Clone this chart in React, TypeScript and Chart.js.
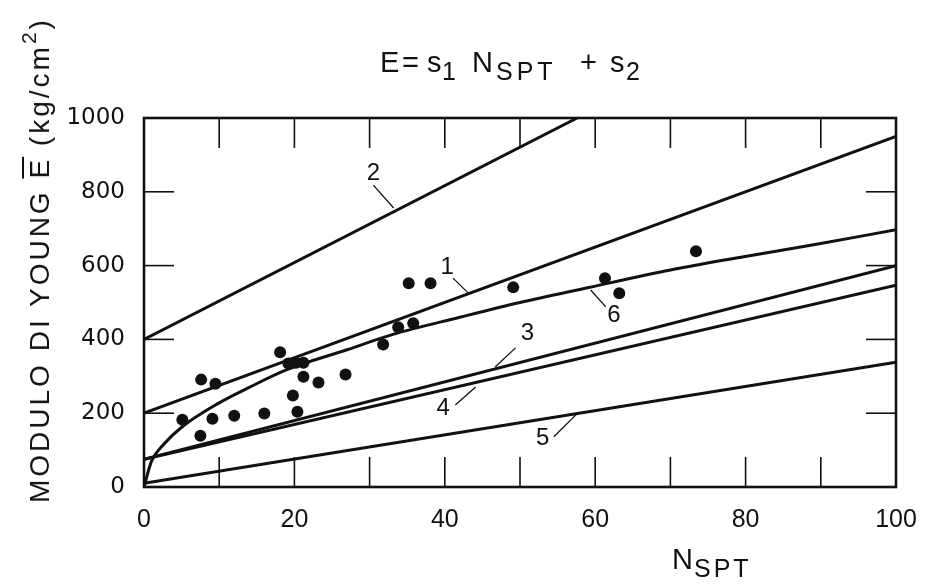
import React, { useEffect, useRef } from 'react';
import { Chart, registerables } from 'chart.js';

Chart.register(...registerables);

// ---- data ----
const xTickStep = 10;
const yTickStep = 200;
const xMin = 0;
const xMax = 100;
const yMin = 0;
const yMax = 1000;

const scatterX = [5.1, 7.5, 7.6, 9.5, 9.1, 12.0, 16.0, 20.4, 19.8, 21.2, 23.2, 26.8, 18.1, 19.2, 20.2, 21.2, 31.8, 33.8, 35.8, 35.2, 38.1, 49.1, 61.3, 63.2, 73.4];
const scatterY = [182, 139, 291, 280, 185, 193, 199, 204, 248, 299, 283, 305, 365, 335, 337, 337, 386, 433, 444, 552, 552, 541, 566, 525, 639];

const line1X = [0, 100];
const line1Y = [200, 950];
const line2X = [0, 57.6];
const line2Y = [400, 1000];
const line3X = [0, 100];
const line3Y = [75, 600];
const line4X = [0, 100];
const line4Y = [75, 547];
const line5X = [0, 100];
const line5Y = [10, 338];
const line6X = [0, 1, 2.6, 5, 10, 14, 19, 27, 33, 42, 50, 59, 70, 78, 90, 100];
const line6Y = [0, 70, 115, 162, 228, 270, 318, 372, 413, 460, 500, 540, 588, 618, 660, 697];

const curveLabels = ['1', '2', '3', '4', '5', '6'];
const curveLabelX = [40.3, 30.5, 51.0, 39.8, 53.0, 62.5];
const curveLabelY = [596, 851, 417, 214, 133, 466];
const leaderFromX = [41.1, 30.5, 49.4, 41.4, 54.5, 61.4];
const leaderFromY = [566, 818, 377, 222, 136, 488];
const leaderToX = [43.1, 33.2, 46.7, 44.1, 57.8, 59.4];
const leaderToY = [526, 756, 325, 271, 203, 534];

const pts = (xs: number[], ys: number[]) => xs.map((x, i) => ({ x, y: ys[i] }));

const lineDs = (xs: number[], ys: number[], extra: any = {}) => ({
  type: 'line' as const,
  data: pts(xs, ys),
  borderColor: '#111',
  borderWidth: 3,
  pointRadius: 0,
  fill: false,
  ...extra,
});

const framePlugin = {
  id: 'frameTicks',
  afterDatasetsDraw(chart: any) {
    const { ctx, chartArea: a, scales } = chart;
    const x = scales.x;
    const y = scales.y;
    const TL = 30;
    ctx.save();
    ctx.strokeStyle = '#111';
    ctx.lineCap = 'butt';
    ctx.lineWidth = 1.6;
    const seg = (x1: number, y1: number, x2: number, y2: number) => {
      ctx.beginPath();
      ctx.moveTo(x1, y1);
      ctx.lineTo(x2, y2);
      ctx.stroke();
    };
    x.ticks.forEach((t: any) => {
      if (t.value <= x.min || t.value >= x.max) return;
      const px = x.getPixelForValue(t.value);
      seg(px, a.bottom, px, a.bottom - TL);
      seg(px, a.top, px, a.top + TL);
    });
    y.ticks.forEach((t: any) => {
      if (t.value <= y.min || t.value >= y.max) return;
      const py = y.getPixelForValue(t.value);
      seg(a.left, py, a.left + TL, py);
      seg(a.right, py, a.right - TL, py);
    });
    ctx.lineWidth = 2.6;
    ctx.strokeRect(a.left, a.top, a.right - a.left, a.bottom - a.top);

    // curve labels with leader lines
    ctx.lineWidth = 1.3;
    ctx.fillStyle = '#111';
    ctx.font = '24px "Liberation Sans", Arial, sans-serif';
    ctx.textAlign = 'center';
    ctx.textBaseline = 'middle';
    curveLabels.forEach((lab, i) => {
      ctx.fillText(lab, x.getPixelForValue(curveLabelX[i]), y.getPixelForValue(curveLabelY[i]));
      seg(
        x.getPixelForValue(leaderFromX[i]),
        y.getPixelForValue(leaderFromY[i]),
        x.getPixelForValue(leaderToX[i]),
        y.getPixelForValue(leaderToY[i])
      );
    });
    ctx.restore();
  },
};

export default function App() {
  const ref = useRef<HTMLCanvasElement>(null);

  useEffect(() => {
    const canvas = ref.current;
    if (!canvas) return;
    const chart = new Chart(canvas, {
      type: 'scatter',
      data: {
        datasets: [
          {
            type: 'scatter',
            data: pts(scatterX, scatterY),
            backgroundColor: '#111',
            borderWidth: 0,
            pointRadius: 6,
          } as any,
          lineDs(line1X, line1Y),
          lineDs(line2X, line2Y),
          lineDs(line3X, line3Y),
          lineDs(line4X, line4Y),
          lineDs(line5X, line5Y),
          lineDs(line6X, line6Y, { cubicInterpolationMode: 'monotone' }),
        ],
      },
      options: {
        responsive: false,
        animation: false,
        events: [],
        layout: { padding: { left: 0, right: 31, top: 118, bottom: 0 } },
        plugins: {
          legend: { display: false },
          tooltip: { enabled: false },
          title: { display: false },
        },
        scales: {
          x: {
            type: 'linear',
            min: xMin,
            max: xMax,
            grid: { display: false },
            border: { display: false },
            ticks: {
              stepSize: xTickStep,
              autoSkip: false,
              maxRotation: 0,
              padding: 10,
              color: '#111',
              font: { family: '"Liberation Sans", Arial, sans-serif', size: 25 },
              callback: (v: any) => (Number(v) % 20 === 0 ? String(v) : ''),
            },
            afterFit: (s: any) => {
              s.height = 99;
            },
          },
          y: {
            type: 'linear',
            min: yMin,
            max: yMax,
            grid: { display: false },
            border: { display: false },
            ticks: {
              stepSize: yTickStep,
              padding: 11,
              color: '#111',
              font: { family: '"DejaVu Sans", sans-serif', size: 23 },
              callback: (v: any) => String(v),
            },
            afterFit: (s: any) => {
              s.width = 144;
            },
          },
        },
      },
      plugins: [framePlugin],
    } as any);
    return () => chart.destroy();
  }, []);

  const base: React.CSSProperties = {
    position: 'absolute',
    fontFamily: '"Liberation Sans", Arial, sans-serif',
    color: '#111',
    whiteSpace: 'nowrap',
    lineHeight: 1,
  };
  const big = (left: number, top: number): React.CSSProperties => ({ ...base, left, top, fontSize: 29 });
  const small = (left: number, top: number): React.CSSProperties => ({ ...base, left, top, fontSize: 25 });

  return (
    <div style={{ position: 'fixed', left: 0, top: 0, width: 927, height: 586, background: '#fff', overflow: 'hidden' }}>
      <canvas ref={ref} width={927} height={586} style={{ position: 'absolute', left: 0, top: 0, width: 927, height: 586 }} />
      {/* title: E = s1 NSPT + s2 */}
      <span style={{ ...big(380, 48), fontSize: 29 }}>E</span>
      <span style={big(402, 48)}>=</span>
      <span style={big(427, 48)}>s</span>
      <span style={small(442, 59)}>1</span>
      <span style={big(472, 48)}>N</span>
      <span style={{ ...small(496, 59), letterSpacing: 4 }}>SPT</span>
      <span style={big(580, 48)}>+</span>
      <span style={big(610, 48)}>s</span>
      <span style={small(626, 59)}>2</span>
      {/* y axis title */}
      <div
        style={{
          ...base,
          left: 40,
          top: 260,
          fontSize: 28,
          letterSpacing: 3,
          transform: 'translate(-50%, -50%) rotate(-90deg)',
        }}
      >
        MODULO DI YOUNG <span style={{ textDecoration: 'overline' }}>E</span> (kg/cm<sup style={{ fontSize: 21, verticalAlign: 'baseline', position: 'relative', top: -13 }}>2</sup>)
      </div>
      {/* x axis title */}
      <span style={big(672, 545)}>N</span>
      <span style={{ ...small(694, 556), letterSpacing: 3 }}>SPT</span>
    </div>
  );
}
